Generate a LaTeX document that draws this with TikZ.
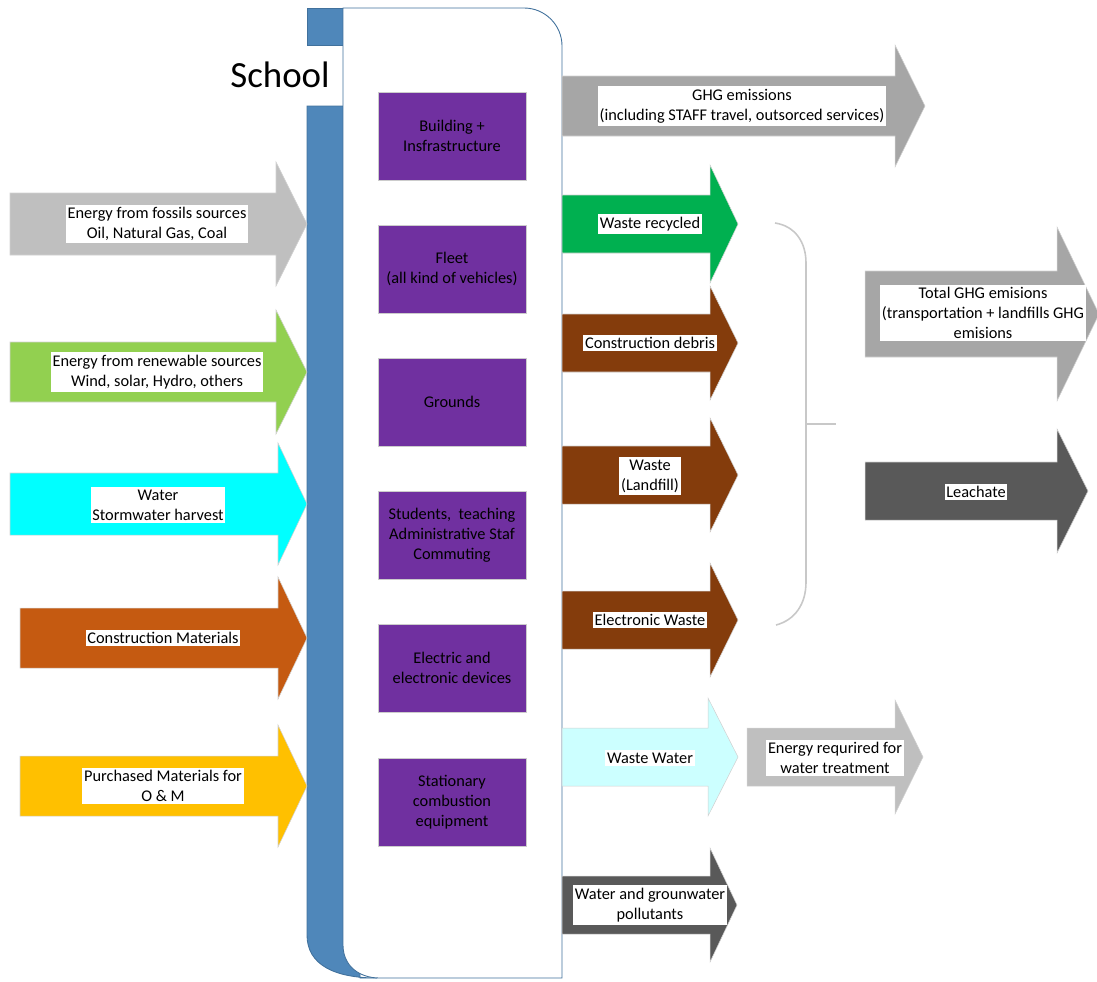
\documentclass[tikz,border=0pt]{standalone}
\usepackage{fontspec}
\setmainfont{Carlito}
\usepackage{xcolor}
\usetikzlibrary{positioning}

\definecolor{schoolblue}{HTML}{4F87BA}
\definecolor{schoolline}{HTML}{41719C}
\definecolor{unitpurple}{HTML}{7030A0}
\definecolor{fossilgray}{HTML}{BFBFBF}
\definecolor{ghggray}{HTML}{A6A6A6}
\definecolor{darkgray}{HTML}{595959}
\definecolor{renewgreen}{HTML}{92D050}
\definecolor{recyclegreen}{HTML}{00B050}
\definecolor{watercyan}{HTML}{00FFFF}
\definecolor{wastewater}{HTML}{CCFFFF}
\definecolor{constrorange}{HTML}{C55A11}
\definecolor{wastebrown}{HTML}{843C0C}
\definecolor{purchyellow}{HTML}{FFC000}
\definecolor{bracegray}{HTML}{C8C8C8}

\newcommand{\tagfont}{\fontsize{9.3}{11.4}\selectfont}
% #1 colour, #2 tail x, #3 head base x, #4 tip x, #5 centre y, #6 half shaft, #7 half head
\newcommand{\blockarrow}[7]{%
  \filldraw[fill=#1, draw=black!18, line width=0.3pt]
    (#2,#5-#6) -- (#3,#5-#6) -- (#3,#5-#7) -- (#4,#5) -- (#3,#5+#7) -- (#3,#5+#6) -- (#2,#5+#6) -- cycle;}

\begin{document}
\begin{tikzpicture}[x=0.02cm, y=-0.02cm,
  unit/.style={fill=unitpurple, draw=black!20, line width=0.4pt, minimum width=2.96cm, minimum height=1.76cm, align=center, font=\tagfont},
  tag/.style={fill=white, inner xsep=1pt, inner ysep=1.5pt, align=center, font=\tagfont}]
\useasboundingbox (0,0) rectangle (1097,981);

% school container
\filldraw[fill=schoolblue, draw=schoolline, line width=0.5pt] (307,8) rectangle (343,45);
\filldraw[fill=schoolblue, draw=schoolline, line width=0.5pt] (307,106) -- (360,106) -- (360,978) -- (377,978)
  .. controls (335,978) and (307,965) .. (307,935) -- cycle;
\filldraw[fill=white, draw=schoolline, line width=0.5pt] (343,8) -- (524,8) .. controls (545,8) and (562,25) .. (562,46)
  -- (562,978) -- (380,978) .. controls (358,978) and (343,965) .. (343,945) -- cycle;
\node[font=\fontsize{21}{25}\selectfont, anchor=base] (school) at (280,87) {School};

\node[unit] (build) at (452,136) {Building +\\Insfrastructure};
\node[unit] (fleet) at (452,269) {Fleet\\(all kind of vehicles)};
\node[unit] (grounds) at (452,402) {Grounds};
\node[unit] (people) at (452,535) {Students,\ \ teaching\\Administrative Staf\\Commuting};
\node[unit] (devices) at (452,668) {Electric and\\electronic devices};
\node[unit] (combust) at (452,802) {Stationary\\combustion\\equipment};

% inputs
\blockarrow{fossilgray}{10}{276}{307}{224}{31}{62}
\blockarrow{renewgreen}{10}{276}{307}{372}{30}{62}
\blockarrow{watercyan}{10}{278}{307}{504}{31}{61}
\blockarrow{constrorange}{20}{278}{307}{638}{30}{61}
\blockarrow{purchyellow}{20}{278}{307}{786}{30}{61}
\node[tag] (fossil) at (157,224) {Energy from fossils sources\\Oil, Natural Gas, Coal};
\node[tag] (renew) at (157,372) {Energy from renewable sources\\Wind, solar, Hydro, others};
\node[tag] (water) at (158,505) {Water\\Stormwater harvest};
\node[tag] (material) at (163,638) {Construction Materials};
\node[tag] (purchase) at (163,786) {Purchased Materials for\\O \& M};

% outputs
\blockarrow{ghggray}{562}{895}{925}{106}{30}{61}
\blockarrow{recyclegreen}{562}{710}{738}{224}{29}{59}
\blockarrow{wastebrown}{562}{710}{738}{343}{29}{57}
\blockarrow{wastebrown}{562}{710}{738}{475}{29}{57}
\blockarrow{wastebrown}{562}{710}{738}{620}{29}{57}
\blockarrow{wastewater}{562}{708}{738}{757}{29}{59}
\blockarrow{fossilgray}{747}{895}{923}{757}{29}{57}
\blockarrow{darkgray}{562}{710}{737}{905}{29}{57}
\blockarrow{ghggray}{865}{1057}{1099}{314}{43}{87}
\blockarrow{darkgray}{865}{1057}{1088}{491}{29}{62}
\node[tag] (ghg) at (742,106) {GHG emissions\\(including STAFF travel, outsorced services)};
\node[tag] (recycled) at (650,224) {Waste recycled};
\node[tag] (debris) at (650,343) {Construction debris};
\node[tag] (landfill) at (650,476) {Waste\\(Landfill)};
\node[tag] (ewaste) at (650,620) {Electronic Waste};
\node[tag] (wwater) at (650,758) {Waste Water};
\node[tag] (treat) at (835,758) {Energy requrired for\\water treatment};
\node[tag] (pollut) at (650,905) {Water and grounwater\\pollutants};
\node[tag] (totghg) at (983,313) {Total GHG emisions\\(transportation + landfills GHG\\emisions};
\node[tag] (leach) at (976,492) {Leachate};

% brace over the waste streams
\draw[bracegray, line width=0.9pt] (775,223) .. controls (795,226) and (806,242) .. (806,263)
  -- (806,582) .. controls (806,604) and (795,620) .. (776,625);
\coordinate (bracemid) at (806,424);
\draw[bracegray, line width=0.9pt] (bracemid) -- ++(30,0);
\end{tikzpicture}
\end{document}
